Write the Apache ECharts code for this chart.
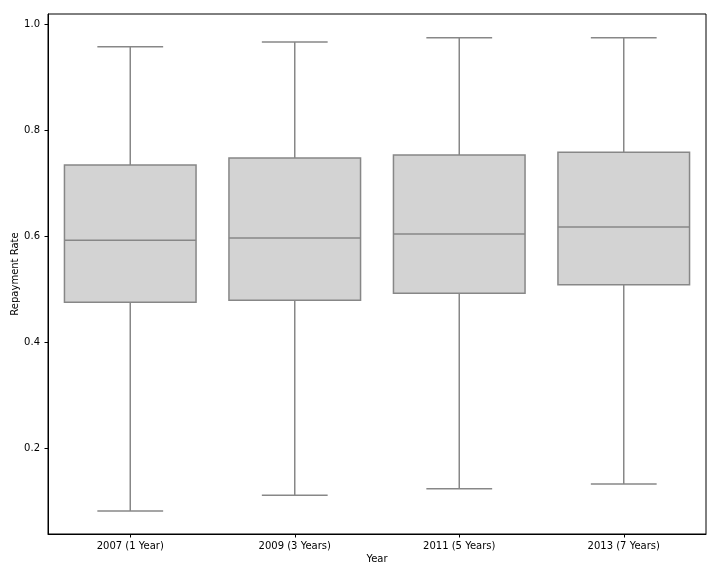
<!DOCTYPE html>
<html>
<head>
<meta charset="utf-8">
<script src="https://cdn.jsdelivr.net/npm/echarts@6/dist/echarts.min.js"></script>
<style>html,body{margin:0;padding:0;background:#fff;}#c{width:720px;height:576px;}</style>
</head>
<body>
<div id="c"></div>
<script>
var categories = ['2007 (1 Year)', '2009 (3 Years)', '2011 (5 Years)', '2013 (7 Years)'];
var whiskerLow = [0.081, 0.111, 0.123, 0.132];
var q1 = [0.475, 0.479, 0.492, 0.508];
var median = [0.592, 0.596, 0.604, 0.617];
var q3 = [0.734, 0.747, 0.753, 0.758];
var whiskerHigh = [0.957, 0.966, 0.974, 0.974];
var yTicks = [0.2, 0.4, 0.6, 0.8, 1.0];

var data = categories.map(function (c, i) {
  return [i, whiskerLow[i], q1[i], median[i], q3[i], whiskerHigh[i]];
});

var lineColor = '#878787';
var fillColor = '#d3d3d3';
var FONT = 'DejaVu Sans';

function renderBox(params, api) {
  var x = api.value(0);
  var bandW = api.size([1, 0])[0];
  var boxW = bandW * 0.8;
  var capW = boxW * 0.5;
  var pLow = api.coord([x, api.value(1)]);
  var pQ1 = api.coord([x, api.value(2)]);
  var pMed = api.coord([x, api.value(3)]);
  var pQ3 = api.coord([x, api.value(4)]);
  var pHigh = api.coord([x, api.value(5)]);
  var cx = pMed[0];
  var st = { stroke: lineColor, lineWidth: 1.5, fill: null };
  return {
    type: 'group',
    children: [
      { type: 'line', shape: { x1: cx, y1: pQ3[1], x2: cx, y2: pHigh[1] }, style: st },
      { type: 'line', shape: { x1: cx, y1: pQ1[1], x2: cx, y2: pLow[1] }, style: st },
      { type: 'line', shape: { x1: cx - capW / 2, y1: pHigh[1], x2: cx + capW / 2, y2: pHigh[1] }, style: st },
      { type: 'line', shape: { x1: cx - capW / 2, y1: pLow[1], x2: cx + capW / 2, y2: pLow[1] }, style: st },
      { type: 'rect', shape: { x: cx - boxW / 2, y: pQ3[1], width: boxW, height: pQ1[1] - pQ3[1] },
        style: { fill: fillColor, stroke: lineColor, lineWidth: 1.5 } },
      { type: 'line', shape: { x1: cx - boxW / 2, y1: pMed[1], x2: cx + boxW / 2, y2: pMed[1] }, style: st }
    ]
  };
}

var chart = echarts.init(document.getElementById('c'), null, { renderer: 'canvas' });
chart.setOption({
  animation: false,
  backgroundColor: '#ffffff',
  grid: { left: 48, right: 14, top: 14, bottom: 42, show: true, borderColor: '#000', borderWidth: 1,
    containLabel: false, outerBoundsMode: 'none' },
  xAxis: {
    type: 'category',
    data: categories,
    boundaryGap: true,
    name: 'Year',
    nameLocation: 'middle',
    nameGap: 20,
    nameMoveOverlap: false,
    nameTextStyle: { color: '#000', fontSize: 10, fontFamily: FONT },
    axisLine: { show: true, lineStyle: { color: '#000', width: 1 } },
    axisTick: { show: true, alignWithLabel: true, length: 3.5, inside: false, lineStyle: { color: '#000' } },
    axisLabel: { color: '#000', fontSize: 10, fontFamily: FONT, margin: 7 },
    splitLine: { show: false }
  },
  yAxis: {
    type: 'value',
    min: 0.0377,
    max: 1.0189,
    name: 'Repayment Rate',
    nameLocation: 'middle',
    nameRotate: 90,
    nameGap: 28,
    nameMoveOverlap: false,
    nameTextStyle: { color: '#000', fontSize: 10, fontFamily: FONT },
    axisLine: { show: true, lineStyle: { color: '#000', width: 1 } },
    axisTick: { show: true, length: 3.5, customValues: yTicks, lineStyle: { color: '#000' } },
    axisLabel: { color: '#000', fontSize: 10, fontFamily: FONT, margin: 8, customValues: yTicks,
      formatter: function (v) { return v.toFixed(1); } },
    splitLine: { show: false }
  },
  series: [{
    type: 'custom',
    renderItem: renderBox,
    data: data,
    encode: { x: 0, y: [1, 2, 3, 4, 5] },
    clip: false
  }]
});
</script>
</body>
</html>
